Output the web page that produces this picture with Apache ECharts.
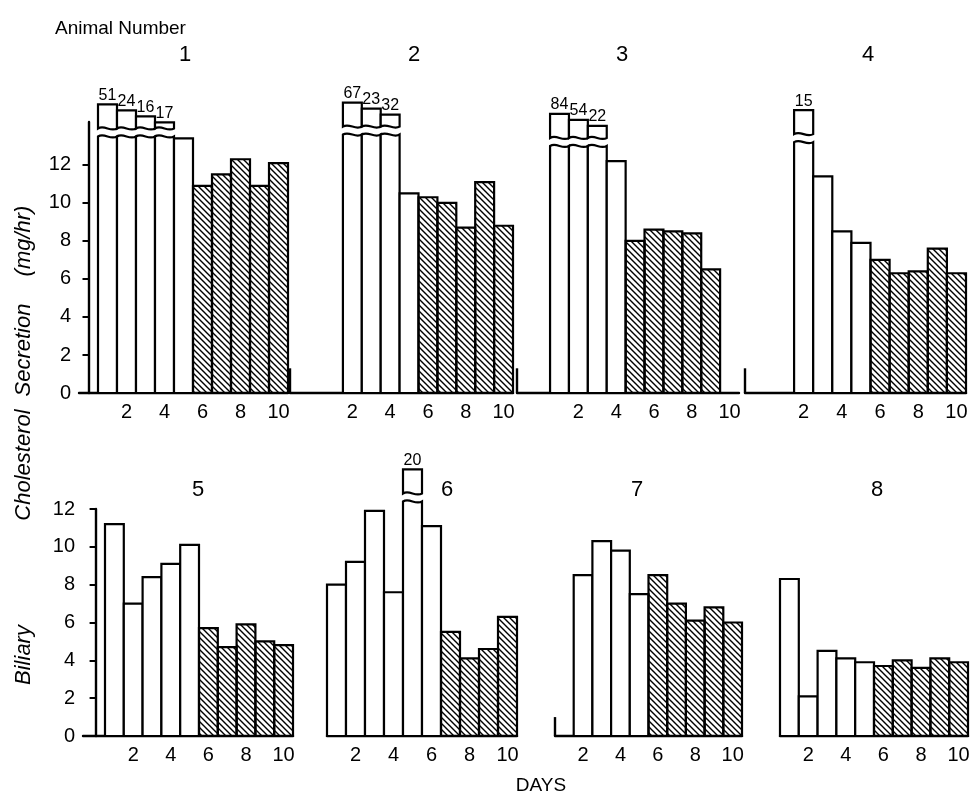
<!DOCTYPE html>
<html><head><meta charset="utf-8">
<script src="https://cdn.jsdelivr.net/npm/echarts@6/dist/echarts.min.js"></script>
<style>html,body{margin:0;padding:0;background:#fff}#c{width:971px;height:797px}</style>
</head><body><div id="c"></div>
<script>
// ---------------- data ----------------
const days = [1, 2, 3, 4, 5, 6, 7, 8, 9, 10];
const dayTicks = [2, 4, 6, 8, 10];
const secretionTicks = [0, 2, 4, 6, 8, 10, 12];
const animalNumbers = ['1', '2', '3', '4', '5', '6', '7', '8'];
// biliary cholesterol secretion (mg/hr) per day; null = no value
const animal1 = [51, 24, 16, 17, 13.4, 10.9, 11.5, 12.3, 10.9, 12.1];
const animal2 = [null, 67, 23, 32, 10.5, 10.3, 10.0, 8.7, 11.1, 8.8];
const animal3 = [84, 54, 22, 12.2, 8.0, 8.6, 8.5, 8.4, 6.5, null];
const animal4 = [null, 15, 11.4, 8.5, 7.9, 7.0, 6.3, 6.4, 7.6, 6.3];
const animal5 = [11.2, 7.0, 8.4, 9.1, 10.1, 5.7, 4.7, 5.9, 5.0, 4.8];
const animal6 = [8.0, 9.2, 11.9, 7.6, 20, 11.1, 5.5, 4.1, 4.6, 6.3];
const animal7 = [null, 8.5, 10.3, 9.8, 7.5, 8.5, 7.0, 6.1, 6.8, 6.0];
const animal8 = [8.3, 2.1, 4.5, 4.1, 3.9, 3.7, 4.0, 3.6, 4.1, 3.9];
// first day of the hatched period for each animal
const hatchedFrom = [6, 6, 5, 6, 6, 7, 6, 6];
const allAnimals = [animal1, animal2, animal3, animal4, animal5, animal6, animal7, animal8];

// ---------------- layout / style ----------------
const FONT = 'Liberation Sans';
const BREAK_ABOVE = 14;          // values above this are drawn as broken bars
const TOP = {top: 122, height: 271, ymax: 14.26};
const BOT = {top: 509, height: 227, ymax: 12};
const layout = [
  {row: TOP, left: 79,  right: 288, xmin: -0.5,  yAxis: true,  brk: 13.5},
  {row: TOP, left: 290, right: 513, xmin: -1.3,  stub: 1.3,    brk: 13.6},
  {row: TOP, left: 517, right: 739, xmin: -1.25, stub: 1.3,    brk: 13.0},
  {row: TOP, left: 745, right: 966, xmin: -1.07, stub: 1.3,    brk: 13.2},
  {row: BOT, left: 83,  right: 293, xmin: -0.67, yAxis: true,  brk: 12.4},
  {row: BOT, left: 327, right: 517, xmin: 0.5,                 brk: 12.4},
  {row: BOT, left: 555, right: 742, xmin: 0.5,   stub: 1.0,    brk: 12.4},
  {row: BOT, left: 780, right: 968, xmin: 0.5,                 brk: 12.4}
];
const numberPos = [[185, 55], [414, 55], [622, 55], [868, 55], [198, 490], [447, 490], [637, 490], [877, 490]];

// hatch pattern
const pc = document.createElement('canvas');
pc.width = 6; pc.height = 6;
const g = pc.getContext('2d');
g.strokeStyle = '#000'; g.lineWidth = 1.4; g.lineCap = 'square';
g.beginPath();
g.moveTo(-1, -1); g.lineTo(7, 7);
g.moveTo(-1, 5); g.lineTo(1, 7);
g.moveTo(5, -1); g.lineTo(7, 1);
g.stroke();
const hatch = {image: pc, repeat: 'repeat'};

function makeRender(L) {
  return function (params, api) {
    const day = api.value(0), v = api.value(1), hatched = api.value(2) === 1, k = api.value(3);
    const fill = hatched ? hatch : '#fff';
    const broken = v > BREAK_ABOVE;
    const b = api.coord([day - 0.5, 0]);
    const c = api.coord([day + 0.5, broken ? L.brk : v]);
    const x0 = b[0], x1 = c[0], yb = b[1], yt = c[1], w = x1 - x0;
    if (!broken) {
      return {type: 'rect', shape: {x: x0, y: yt, width: w, height: yb - yt},
        style: {fill: fill, stroke: '#000', lineWidth: 2.2}};
    }
    const a = 4;
    const xa = x0 + w * 0.35, xb = x0 + w * 0.65;
    const main = 'M' + x0 + ' ' + yb + 'L' + x0 + ' ' + yt +
      'C' + xa + ' ' + (yt - a) + ' ' + xb + ' ' + (yt + a) + ' ' + x1 + ' ' + yt +
      'L' + x1 + ' ' + yb + 'Z';
    const bb = yt - 8;
    const bt = bb - 24 + k * 6;
    const box = 'M' + x0 + ' ' + bb + 'L' + x0 + ' ' + bt + 'L' + x1 + ' ' + bt + 'L' + x1 + ' ' + bb +
      'C' + xb + ' ' + (bb + a) + ' ' + xa + ' ' + (bb - a) + ' ' + x0 + ' ' + bb + 'Z';
    return {type: 'group', children: [
      {type: 'path', shape: {pathData: main}, style: {fill: '#fff', stroke: '#000', lineWidth: 2.2}},
      {type: 'path', shape: {pathData: box}, style: {fill: '#fff', stroke: '#000', lineWidth: 2.2}},
      {type: 'text', style: {text: String(v), x: (x0 + x1) / 2, y: bt - 1, align: 'center', verticalAlign: 'bottom',
        fontSize: 16, fontFamily: FONT, fill: '#000'}}
    ]};
  };
}

const grids = [], xAxes = [], yAxes = [], series = [];
layout.forEach(function (L, i) {
  grids.push({left: L.left, top: L.row.top, width: L.right - L.left, height: L.row.height,
    containLabel: false, outerBoundsMode: 'none'});
  xAxes.push({type: 'value', gridIndex: i, min: L.xmin, max: 10.5,
    axisLine: {show: true, onZero: false, lineStyle: {color: '#000', width: 2.4}},
    axisTick: {show: false}, splitLine: {show: false},
    axisLabel: {customValues: dayTicks, color: '#000', fontSize: 20, fontFamily: FONT, margin: 9}});
  yAxes.push({type: 'value', gridIndex: i, min: 0, max: L.row.ymax, show: !!L.yAxis,
    axisLine: {show: true, lineStyle: {color: '#000', width: 2.4}},
    axisTick: {show: true, customValues: secretionTicks, length: 6, lineStyle: {color: '#000', width: 2}},
    axisLabel: {customValues: secretionTicks, color: '#000', fontSize: 20, fontFamily: FONT, margin: 8},
    splitLine: {show: false}});
  const vals = allAnimals[i];
  const data = [];
  let k = 0;
  days.forEach(function (d, j) {
    if (vals[j] == null) return;
    const broken = vals[j] > BREAK_ABOVE;
    data.push([d, vals[j], d >= hatchedFrom[i] ? 1 : 0, broken ? k : 0]);
    if (broken) k++;
  });
  series.push({type: 'custom', name: 'Animal ' + animalNumbers[i], xAxisIndex: i, yAxisIndex: i,
    data: data, renderItem: makeRender(L), silent: true, clip: false});
});

const graphics = [
  {type: 'text', x: 55, y: 29, style: {text: 'Animal Number', fontSize: 19, fontFamily: FONT, fill: '#000', verticalAlign: 'middle'}},
  {type: 'text', x: 541, y: 786, style: {text: 'DAYS', fontSize: 19, fontFamily: FONT, fill: '#000', align: 'center', verticalAlign: 'middle'}}
];
animalNumbers.forEach(function (n, i) {
  graphics.push({type: 'text', x: numberPos[i][0], y: numberPos[i][1],
    style: {text: n, fontSize: 22, fontFamily: FONT, fill: '#000', align: 'center', verticalAlign: 'middle'}});
});
[['(mg/hr)', 241], ['Secretion', 350], ['Cholesterol', 465], ['Biliary', 655]].forEach(function (t) {
  graphics.push({type: 'text', x: 24, y: t[1], rotation: Math.PI / 2,
    style: {text: t[0], fontSize: 22, fontStyle: 'italic', fontFamily: FONT, fill: '#000', align: 'center', verticalAlign: 'middle'}});
});

const chart = echarts.init(document.getElementById('c'), null, {renderer: 'canvas'});
chart.setOption({animation: false, backgroundColor: '#fff', grid: grids, xAxis: xAxes, yAxis: yAxes, series: series, graphic: graphics});

// short axis stubs at the start of some panels
layout.forEach(function (L, i) {
  if (!L.stub) return;
  const a = chart.convertToPixel({gridIndex: i}, [L.xmin, 0]);
  const b = chart.convertToPixel({gridIndex: i}, [L.xmin, L.stub]);
  graphics.push({type: 'line', shape: {x1: a[0], y1: a[1], x2: b[0], y2: b[1]},
    style: {stroke: '#000', lineWidth: 2.4}});
});
chart.setOption({graphic: graphics});
</script>
</body></html>
